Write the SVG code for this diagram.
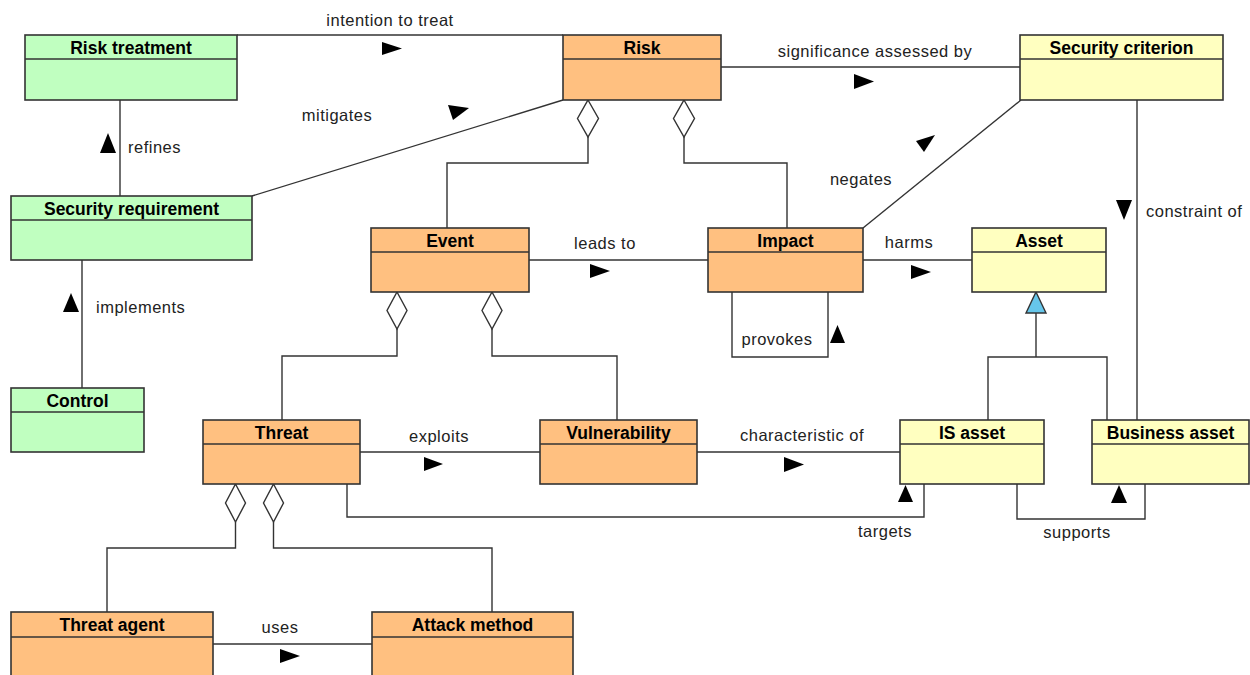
<svg xmlns="http://www.w3.org/2000/svg" width="1250" height="675" viewBox="0 0 1250 675">
<style>
.box{stroke:#333;stroke-width:1.6}
.g{fill:#c0ffc0}
.o{fill:#ffc080}
.y{fill:#ffffc0}
.sep{stroke:#333;stroke-width:1.6;fill:none}
.t{font-family:"Liberation Sans",Arial,sans-serif;font-weight:bold;font-size:17.5px;text-anchor:middle;fill:#000}
.c{stroke:#333;stroke-width:1.4;fill:none}
.dia{stroke:#333;stroke-width:1.4;fill:#fff}
.ar{fill:#000;stroke:none}
.gen{fill:#66c6ea;stroke:#333;stroke-width:1.4}
.l{font-family:"Liberation Sans",Arial,sans-serif;font-size:16.5px;letter-spacing:0.5px;fill:#222}
.m{text-anchor:middle}
</style>
<rect width="1250" height="675" fill="#fff"/>
<g id="connectors">
  <!-- intention to treat -->
  <line class="c" x1="237" y1="35" x2="563" y2="35"/>
  <polygon class="ar" points="382,42 402,48.5 382,55"/>
  <text class="l m" x="390" y="26">intention to treat</text>
  <!-- mitigates -->
  <line class="c" x1="252" y1="196" x2="563" y2="100"/>
  <polygon class="ar" points="448,105 469,108 453,120"/>
  <text class="l m" x="337" y="121">mitigates</text>
  <!-- significance assessed by -->
  <line class="c" x1="721" y1="67" x2="1020" y2="67"/>
  <polygon class="ar" points="854,74 874,81.5 854,89"/>
  <text class="l m" x="875" y="57">significance assessed by</text>
  <!-- refines -->
  <line class="c" x1="120" y1="100" x2="120" y2="196"/>
  <polygon class="ar" points="100,153 108,133 116,153"/>
  <text class="l" x="128" y="153">refines</text>
  <!-- implements -->
  <line class="c" x1="82" y1="260" x2="82" y2="388"/>
  <polygon class="ar" points="63,312 71,293 79,312"/>
  <text class="l" x="96" y="313">implements</text>
  <!-- Risk aggregations -->
  <polyline class="c" points="588,137 588,163 447,163 447,228"/>
  <polygon class="dia" points="588,100 598.5,118.5 588,137 577.5,118.5"/>
  <polyline class="c" points="684,137 684,163 787,163 787,228"/>
  <polygon class="dia" points="684,100 694.5,118.5 684,137 673.5,118.5"/>
  <!-- negates -->
  <line class="c" x1="863" y1="228" x2="1021" y2="100"/>
  <polygon class="ar" points="935,135 916,141 924,152"/>
  <text class="l m" x="861" y="185">negates</text>
  <!-- constraint of -->
  <line class="c" x1="1137" y1="100" x2="1137" y2="420"/>
  <polygon class="ar" points="1116,200 1132,200 1124,220"/>
  <text class="l" x="1146" y="217">constraint of</text>
  <!-- leads to -->
  <line class="c" x1="529" y1="260" x2="708" y2="260"/>
  <polygon class="ar" points="590,264 610,271 590,278"/>
  <text class="l m" x="605" y="249">leads to</text>
  <!-- harms -->
  <line class="c" x1="863" y1="260" x2="972" y2="260"/>
  <polygon class="ar" points="911,265 931,272 911,279"/>
  <text class="l m" x="909" y="248">harms</text>
  <!-- provokes -->
  <polyline class="c" points="732,292 732,357 828,357 828,292"/>
  <polygon class="ar" points="830,343 837.5,325 845,343"/>
  <text class="l m" x="777" y="345">provokes</text>
  <!-- Event aggregations -->
  <polyline class="c" points="397,329 397,356 282,356 282,420"/>
  <polygon class="dia" points="397,292 407,310.5 397,329 387,310.5"/>
  <polyline class="c" points="492,329 492,356 617,356 617,420"/>
  <polygon class="dia" points="492,292 502,310.5 492,329 482,310.5"/>
  <!-- generalization -->
  <polyline class="c" points="988,420 988,357 1107,357 1107,420"/>
  <line class="c" x1="1036" y1="313" x2="1036" y2="357"/>
  <polygon class="gen" points="1036,292 1046,313 1026,313"/>
  <!-- exploits -->
  <line class="c" x1="360" y1="452" x2="540" y2="452"/>
  <polygon class="ar" points="424,457 443,464 424,471"/>
  <text class="l m" x="439" y="442">exploits</text>
  <!-- characteristic of -->
  <line class="c" x1="697" y1="452" x2="900" y2="452"/>
  <polygon class="ar" points="784,457 804,464.5 784,472"/>
  <text class="l m" x="802" y="441">characteristic of</text>
  <!-- targets -->
  <polyline class="c" points="347,484 347,517 924,517 924,484"/>
  <polygon class="ar" points="898,502 905.5,485 913,502"/>
  <text class="l m" x="885" y="537">targets</text>
  <!-- supports -->
  <polyline class="c" points="1017,484 1017,519 1145,519 1145,484"/>
  <polygon class="ar" points="1111,503 1119,485 1127,503"/>
  <text class="l m" x="1077" y="538">supports</text>
  <!-- Threat aggregations -->
  <polyline class="c" points="235.5,522 235.5,548 107,548 107,612"/>
  <polygon class="dia" points="235.5,484 245.5,503 235.5,522 225.5,503"/>
  <polyline class="c" points="273.5,522 273.5,548 492,548 492,612"/>
  <polygon class="dia" points="273.5,484 283.5,503 273.5,522 263.5,503"/>
  <!-- uses -->
  <line class="c" x1="213" y1="644" x2="372" y2="644"/>
  <polygon class="ar" points="280,649 300,656 280,663"/>
  <text class="l m" x="280" y="633">uses</text>
</g>
<g id="risk-treatment"><rect class="box g" x="25" y="35" width="212" height="65"/><line class="sep" x1="25" y1="59" x2="237" y2="59"/><text class="t" x="131" y="54">Risk treatment</text></g>
<g id="risk"><rect class="box o" x="563" y="35" width="158" height="65"/><line class="sep" x1="563" y1="59" x2="721" y2="59"/><text class="t" x="642" y="54">Risk</text></g>
<g id="security-criterion"><rect class="box y" x="1020" y="35" width="203" height="65"/><line class="sep" x1="1020" y1="59" x2="1223" y2="59"/><text class="t" x="1121.5" y="54">Security criterion</text></g>
<g id="security-requirement"><rect class="box g" x="11" y="196" width="241" height="64"/><line class="sep" x1="11" y1="220" x2="252" y2="220"/><text class="t" x="131.5" y="215">Security requirement</text></g>
<g id="control"><rect class="box g" x="11" y="388" width="133" height="64"/><line class="sep" x1="11" y1="412" x2="144" y2="412"/><text class="t" x="77.5" y="407">Control</text></g>
<g id="event"><rect class="box o" x="371" y="228" width="158" height="64"/><line class="sep" x1="371" y1="252" x2="529" y2="252"/><text class="t" x="450" y="247">Event</text></g>
<g id="impact"><rect class="box o" x="708" y="228" width="155" height="64"/><line class="sep" x1="708" y1="252" x2="863" y2="252"/><text class="t" x="785.5" y="247">Impact</text></g>
<g id="asset"><rect class="box y" x="972" y="228" width="134" height="64"/><line class="sep" x1="972" y1="252" x2="1106" y2="252"/><text class="t" x="1039" y="247">Asset</text></g>
<g id="threat"><rect class="box o" x="203" y="420" width="157" height="64"/><line class="sep" x1="203" y1="444" x2="360" y2="444"/><text class="t" x="281.5" y="439">Threat</text></g>
<g id="vulnerability"><rect class="box o" x="540" y="420" width="157" height="64"/><line class="sep" x1="540" y1="444" x2="697" y2="444"/><text class="t" x="618.5" y="439">Vulnerability</text></g>
<g id="is-asset"><rect class="box y" x="900" y="420" width="144" height="64"/><line class="sep" x1="900" y1="444" x2="1044" y2="444"/><text class="t" x="972" y="439">IS asset</text></g>
<g id="business-asset"><rect class="box y" x="1092" y="420" width="157" height="64"/><line class="sep" x1="1092" y1="444" x2="1249" y2="444"/><text class="t" x="1170.5" y="439">Business asset</text></g>
<g id="threat-agent"><rect class="box o" x="11" y="612" width="202" height="70"/><line class="sep" x1="11" y1="637" x2="213" y2="637"/><text class="t" x="112" y="631">Threat agent</text></g>
<g id="attack-method"><rect class="box o" x="372" y="612" width="201" height="70"/><line class="sep" x1="372" y1="637" x2="573" y2="637"/><text class="t" x="472.5" y="631">Attack method</text></g>
</svg>
